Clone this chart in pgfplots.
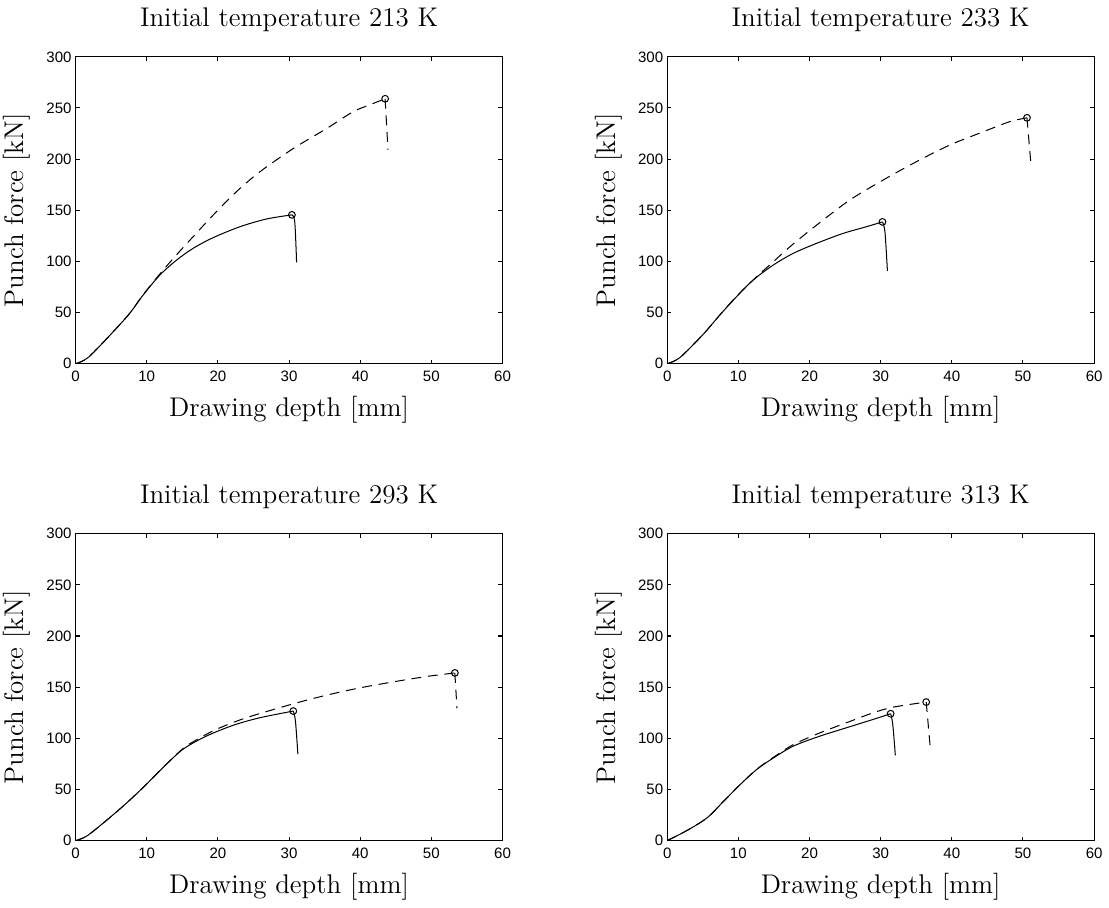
\documentclass[border=0pt]{standalone}
\usepackage{pgfplots}
\pgfplotsset{compat=1.18}
\usepgfplotslibrary{groupplots}
\usepackage{fontspec}
\newfontfamily\ticksans{Liberation Sans}

\pgfplotsset{
  punch/.style={
    scale only axis, width=189.8pt, height=136.4pt,
    xmin=0, xmax=60, ymin=0, ymax=300,
    xtick={0,10,...,60}, ytick={0,50,...,300},
    tick align=inside, tick pos=both, major tick length=1.8pt,
    axis line style={line width=0.45pt},
    every tick/.style={black, line width=0.45pt},
    tick label style={font=\ticksans\fontsize{6.7}{8}\selectfont, inner sep=0pt,
      /pgf/number format/assume math mode=true},
    yticklabel style={xshift=-1.6pt},
    xticklabel style={yshift=-3.1pt},
    title style={font=\large, at={(axis description cs:0.5,1)}, anchor=base, yshift=7.6pt},
    xlabel style={font=\large, at={(axis description cs:0.5,0)}, anchor=base, yshift=-23.5pt},
    ylabel style={font=\large, at={(axis description cs:-0.105,0.5)}, anchor=south, inner sep=0pt},
    xlabel={Drawing depth [mm]}, ylabel={Punch force [kN]},
  },
  sim/.style={black, line width=0.45pt, mark=none},
  exp/.style={black, line width=0.45pt, mark=none, dash pattern=on 4.4pt off 3pt},
  peak/.style={black, only marks, mark=o, mark size=1.5pt, mark options={solid, line width=0.45pt}},
}

\begin{document}
\begin{tikzpicture}
\begin{groupplot}[group style={group name=G, group size=2 by 2,
    horizontal sep=73.2pt, vertical sep=75.6pt}, punch]

% 213 K
\nextgroupplot[title={Initial temperature 213 K}]
\coordinate (tl) at (rel axis cs:0,1);
\addplot[exp, smooth, tension=0.5] table {
0 0
1.8 6.2
5.3 31.3
7.6 49.2
9.5 67.5
12 89
14 105
16.5 124
19.3 145
22.6 168.1
25.9 187.6
30.6 210.4
35.3 230
39 246.3
41.5 253.5
43.5 259
};
\addplot[exp] table {
43.5 259
43.9 209
};
\addplot[sim, smooth, tension=0.5] table {
0 0
1.8 6.2
5.3 31.3
7.6 49.2
9.5 67.1
11.85 86.7
14.2 101.3
16.5 112.7
19.3 123.1
23.1 133.9
26.8 141.4
30.4 145.5
};
\addplot[sim, smooth, tension=0.5] table {
30.4 145.5
30.8 138.8
31.06 99
};
\addplot[peak] table {
30.4 145.5
43.5 259
};

% 233 K
\nextgroupplot[title={Initial temperature 233 K}]
\addplot[exp, smooth, tension=0.5] table {
0 0
1.78 5.9
5.06 28.7
7.4 47.6
9.75 65.8
12.8 86.5
14.4 96.4
17.2 114
21.0 135.5
25.66 160
30.34 179.5
35.0 197.4
39.7 213.7
44.4 226.7
48.1 236.5
50.56 240.4
};
\addplot[exp] table {
50.56 240.4
51.08 198
};
\addplot[sim, smooth, tension=0.5] table {
0 0
1.78 5.9
5.06 28.7
7.4 47.6
9.75 65.5
12.08 81.8
14.9 96.4
17.7 107.8
20.98 117.6
24.7 127.3
28.0 133.9
30.25 138.6
};
\addplot[sim, smooth, tension=0.5] table {
30.25 138.6
30.6 129
30.95 90.6
};
\addplot[peak] table {
30.25 138.6
50.56 240.4
};

% 293 K
\nextgroupplot[title={Initial temperature 293 K}]
\addplot[exp, smooth, tension=0.5] table {
0 0
1.8 5.5
6.23 30.9
9.5 51.9
12.3 71.6
15.1 90
17.0 98.5
19.8 108.8
24.0 120.1
30.6 133.7
35.3 142.2
39.96 149.3
44.6 155.1
49.3 160.4
53.3 163.9
};
\addplot[exp] table {
53.3 163.9
53.6 129.2
};
\addplot[sim, smooth, tension=0.5] table {
0 0
1.8 5.5
6.23 30.9
9.5 51.9
12.3 71.4
15.1 89.3
18.4 102.2
22.15 112.7
25.9 120.1
30.6 126.6
};
\addplot[sim, smooth, tension=0.5] table {
30.6 126.6
30.9 116.8
31.24 84.4
};
\addplot[peak] table {
30.6 126.6
53.3 163.9
};

% 313 K
\nextgroupplot[title={Initial temperature 313 K}]
\addplot[exp, smooth, tension=0.5] table {
0 0
2.8 9.9
5.6 22.2
7.94 38.5
10.28 54.9
12.6 69.8
14.95 81.5
17.75 93.9
21.5 105.4
25.2 115.2
28.97 125
31.8 130.5
36.4 135.4
};
\addplot[exp] table {
36.4 135.4
36.95 92.4
};
\addplot[sim, smooth, tension=0.5] table {
0 0
2.8 9.9
5.6 22.2
7.94 38.5
10.28 54.9
12.6 69.6
14.95 80.9
17.75 92.4
21.5 102.2
25.2 110.3
28.97 118.5
31.4 124
};
\addplot[sim, smooth, tension=0.5] table {
31.4 124
31.7 113.6
32.06 83.3
};
\addplot[peak] table {
31.4 124
36.4 135.4
};
\end{groupplot}
\path (tl) ++(-33.6pt,20pt) rectangle ++(493pt,-395.6pt);
\end{tikzpicture}
\end{document}
